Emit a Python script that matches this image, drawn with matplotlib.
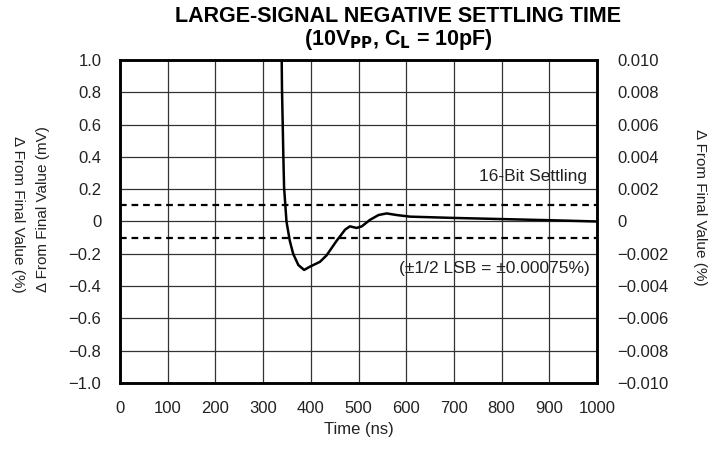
import matplotlib
matplotlib.use('Agg')
import matplotlib.pyplot as plt
from matplotlib.ticker import FuncFormatter

plt.rcParams['font.family'] = ['Liberation Sans', 'DejaVu Sans']
plt.rcParams['font.size'] = 12

# settling curve
time_ns = [339, 339.6, 341, 342.4, 344, 349, 356, 363, 374, 386, 398, 419, 433, 454,
           472, 482, 496, 507, 524, 542, 559, 580, 608, 700, 800, 900, 1000]
delta_mv = [1.0, 0.82, 0.62, 0.41, 0.21, 0.0, -0.12, -0.2, -0.27, -0.30, -0.28, -0.25,
            -0.21, -0.12, -0.05, -0.03, -0.04, -0.03, 0.01, 0.04, 0.05, 0.04, 0.03,
            0.022, 0.015, 0.008, 0.0]

x_ticks = [0, 100, 200, 300, 400, 500, 600, 700, 800, 900, 1000]
left_ticks = [-1.0, -0.8, -0.6, -0.4, -0.2, 0, 0.2, 0.4, 0.6, 0.8, 1.0]
right_ticks = [-0.010, -0.008, -0.006, -0.004, -0.002, 0, 0.002, 0.004, 0.006, 0.008, 0.010]
settle_band = 0.1


def left_fmt(v, pos):
    if abs(v) < 1e-9:
        return '0'
    return '{:.1f}'.format(v).replace('-', '\u2212')


def right_fmt(v, pos):
    if abs(v) < 1e-12:
        return '0'
    return '{:.3f}'.format(v).replace('-', '\u2212')


fig = plt.figure(figsize=(7.16, 4.49), dpi=100)
ax = fig.add_axes([0.1676, 0.147, 0.6662, 0.7194])

ax.plot(time_ns, delta_mv, color='black', lw=1.8, zorder=5)
ax.axhline(settle_band, color='black', lw=1.6, ls=(0, (3, 2.2)), zorder=4)
ax.axhline(-settle_band, color='black', lw=1.6, ls=(0, (3, 2.2)), zorder=4)

ax.set_xlim(0, 1000)
ax.set_ylim(-1.0, 1.0)
ax.set_xticks(x_ticks)
ax.set_yticks(left_ticks)
ax.yaxis.set_major_formatter(FuncFormatter(left_fmt))
ax.grid(True, color='#333333', lw=0.9)
ax.tick_params(axis='y', length=0, pad=13.5, labelsize=12, colors='#222222')
ax.tick_params(axis='x', length=0, pad=13, labelsize=12, colors='#222222')
for s in ax.spines.values():
    s.set_linewidth(1.8)
ax.set_xlabel('Time (ns)', fontsize=12, labelpad=4, color='#222222')

ax2 = ax.twinx()
ax2.set_ylim(-0.010, 0.010)
ax2.set_yticks(right_ticks)
ax2.yaxis.set_major_formatter(FuncFormatter(right_fmt))
ax2.tick_params(length=0, pad=14.5, labelsize=12, colors='#222222')
for s in ax2.spines.values():
    s.set_linewidth(1.8)

ax.text(0.98, 0.64, '16-Bit Settling', transform=ax.transAxes,
        ha='right', va='center', fontsize=12.5, color='#222222')
ax.text(0.985, 0.355, '(\u00b11/2 LSB = \u00b10.00075%)', transform=ax.transAxes,
        ha='right', va='center', fontsize=12.5, color='#222222')

fig.text(0.556, 0.964, 'LARGE-SIGNAL NEGATIVE SETTLING TIME', ha='center', va='center',
         fontsize=15.5, fontweight='bold')
fig.text(0.556, 0.912, '(10V$_{\\mathbf{PP}}$, C$_{\\mathbf{L}}$ = 10pF)', ha='center', va='center',
         fontsize=15.5, fontweight='bold')

fig.text(0.060, 0.535, '\u0394 From Final Value (mV)', rotation=90, ha='center', va='center',
         fontsize=11, color='#222222')
fig.text(0.025, 0.522, '\u0394 From Final Value (%)', rotation=270, ha='center', va='center',
         fontsize=11, color='#222222')
fig.text(0.978, 0.539, '\u0394 From Final Value (%)', rotation=270, ha='center', va='center',
         fontsize=11, color='#222222')

fig.savefig('out.png', dpi=100)
